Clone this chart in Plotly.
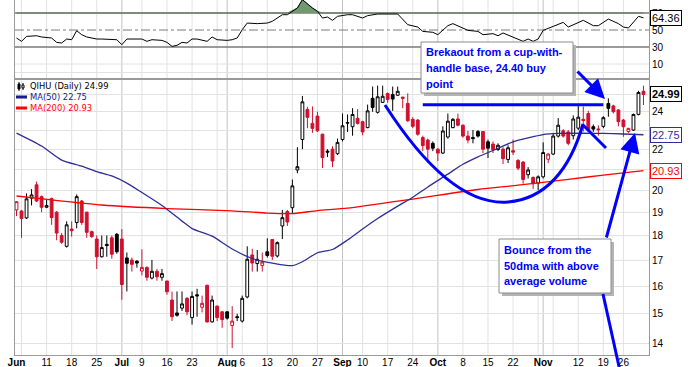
import numpy as np
import pandas as pd
import plotly.graph_objects as go

# ---------------- data ----------------
HOLIDAYS = ["2012-07-04", "2012-09-03", "2012-10-29", "2012-10-30", "2012-11-22"]
DATES = [d.strftime("%Y-%m-%d") for d in pd.bdate_range("2012-06-01", "2012-11-30")
         if d.strftime("%Y-%m-%d") not in HOLIDAYS]

OPEN = [19.10, 19.05, 18.75, 19.63, 20.25, 19.70, 19.22, 19.62, 19.00, 18.00,
        17.55, 18.27, 18.55, 19.50, 19.00, 18.16, 17.85, 17.13, 17.63, 17.90,
        18.05, 17.85, 17.08, 17.00, 16.95, 16.57, 16.71, 16.30, 16.56, 16.33,
        16.19, 15.49, 15.03, 15.20, 15.55, 14.87, 15.68, 15.23, 16.03, 14.72,
        15.27, 15.07, 15.07, 14.60, 14.90, 14.75, 15.60, 17.20, 16.86, 16.78,
        17.33, 17.83, 17.16, 18.40, 19.03, 19.20, 20.96, 22.50, 24.13, 23.36,
        23.76, 22.78, 21.90, 22.00, 21.77, 22.50, 23.40, 23.18, 23.64, 23.45,
        23.13, 24.76, 23.97, 24.53, 25.04, 24.98, 24.94, 24.83, 24.47, 23.58,
        23.54, 22.60, 22.47, 22.30, 22.00, 21.80, 22.63, 23.13, 23.60, 23.26,
        22.68, 22.60, 22.92, 22.92, 22.38, 22.26, 21.98, 22.00, 21.48, 21.92,
        21.43, 21.35, 20.73, 20.60, 20.33, 20.63, 21.49, 21.75, 22.68, 22.96,
        22.90, 22.70, 23.10, 23.58, 23.90, 23.18, 23.06, 23.20, 24.47, 24.33,
        24.10, 23.54, 22.92, 23.00, 23.85, 25.17]
HIGH = [19.50, 19.10, 19.85, 20.05, 20.40, 19.75, 19.55, 19.65, 19.05, 18.10,
        18.60, 18.60, 19.80, 19.55, 19.02, 18.20, 18.00, 18.00, 18.00, 18.00,
        18.10, 18.27, 17.30, 17.10, 17.00, 17.43, 16.75, 17.00, 16.65, 16.65,
        16.20, 15.80, 15.80, 15.80, 15.60, 15.80, 15.90, 15.65, 16.05, 15.65,
        15.30, 15.10, 15.10, 15.27, 15.00, 15.65, 17.55, 17.45, 17.40, 17.30,
        17.88, 17.85, 17.75, 19.10, 19.10, 20.50, 22.10, 24.90, 24.28, 24.30,
        24.00, 22.80, 22.00, 22.15, 22.55, 23.90, 23.85, 24.20, 24.15, 23.50,
        24.40, 25.45, 25.50, 25.50, 25.10, 25.45, 25.45, 24.85, 25.05, 23.70,
        23.60, 22.70, 22.55, 22.40, 22.05, 23.20, 23.90, 23.65, 23.90, 23.30,
        22.95, 23.00, 23.00, 22.95, 22.50, 22.40, 22.30, 22.10, 22.20, 22.50,
        21.50, 21.40, 21.10, 20.65, 20.70, 22.35, 21.80, 22.85, 23.65, 23.05,
        23.00, 23.80, 24.33, 24.30, 24.05, 23.30, 23.25, 23.75, 24.76, 24.40,
        24.15, 23.60, 23.12, 23.90, 25.20, 25.50]
LOW = [18.83, 17.90, 18.70, 19.30, 19.45, 19.00, 19.18, 18.45, 17.80, 17.65,
       17.50, 17.95, 18.30, 18.45, 17.90, 17.90, 16.65, 17.10, 17.13, 17.05,
       17.25, 15.50, 15.80, 16.55, 16.70, 16.40, 16.20, 16.25, 16.20, 16.20,
       15.68, 14.75, 14.90, 15.10, 14.95, 14.63, 14.90, 15.05, 14.70, 14.70,
       14.75, 14.52, 14.80, 13.85, 14.75, 14.70, 15.55, 16.55, 16.55, 16.55,
       17.10, 17.00, 17.10, 17.85, 18.40, 18.95, 20.80, 22.00, 23.10, 22.85,
       22.90, 21.06, 21.60, 21.10, 21.70, 22.40, 22.90, 22.70, 23.30, 22.72,
       23.10, 24.00, 23.90, 24.50, 24.50, 24.05, 24.90, 24.20, 23.45, 23.10,
       22.70, 21.90, 21.30, 21.90, 21.40, 21.75, 22.55, 23.10, 23.20, 22.60,
       22.30, 22.30, 22.60, 21.80, 21.55, 21.80, 21.90, 21.25, 21.30, 21.70,
       20.95, 20.30, 20.55, 20.05, 20.00, 20.55, 21.30, 21.70, 22.60, 22.60,
       22.20, 22.50, 23.00, 22.92, 22.90, 22.90, 22.70, 23.10, 23.72, 23.90,
       23.20, 22.64, 22.85, 22.95, 23.80, 24.38]
CLOSE = [19.47, 18.72, 19.60, 19.78, 19.50, 19.22, 19.30, 18.76, 18.10, 17.72,
         18.45, 18.20, 19.70, 18.55, 18.13, 17.95, 17.13, 17.50, 17.58, 17.23,
         17.33, 16.06, 16.87, 16.83, 16.88, 16.71, 16.33, 16.56, 16.35, 16.47,
         15.79, 14.90, 14.95, 15.35, 15.07, 15.62, 15.64, 15.37, 14.72, 15.49,
         14.87, 14.80, 14.85, 14.75, 14.87, 15.55, 17.03, 16.88, 17.03, 16.92,
         17.18, 17.15, 17.70, 18.76, 18.57, 20.20, 21.12, 24.56, 23.69, 23.09,
         22.96, 21.57, 21.85, 21.40, 22.35, 23.23, 23.38, 23.85, 23.36, 22.90,
         24.05, 24.24, 24.85, 24.88, 24.70, 24.72, 25.17, 24.76, 23.50, 23.20,
         22.78, 22.18, 22.00, 22.05, 21.80, 22.95, 23.48, 23.58, 23.26, 22.68,
         22.47, 22.55, 22.68, 22.00, 22.05, 21.98, 22.20, 21.52, 22.07, 21.85,
         21.05, 20.50, 20.96, 20.30, 20.63, 21.83, 21.75, 22.68, 23.26, 22.68,
         22.30, 23.60, 23.70, 23.52, 23.00, 23.05, 23.02, 23.67, 24.19, 24.00,
         23.45, 23.18, 23.09, 23.85, 25.10, 24.99]
PRIOR_CLOSE = 19.60

MA50_DAY = [0, 5, 9, 13, 16, 19, 22, 25, 29, 33, 35, 39, 43, 47, 51, 55, 57, 60,
            63, 66, 69, 72, 76, 79, 82, 86, 89, 92, 96, 99, 105, 108, 113, 117, 121, 125]
MA50_VAL = [22.84, 22.16, 21.45, 21.15, 20.88, 20.67, 20.33, 19.89, 19.30, 18.61,
            18.29, 17.97, 17.44, 17.06, 16.88, 16.78, 16.93, 17.29, 17.42, 17.81,
            18.27, 18.72, 19.27, 19.67, 20.15, 20.76, 21.24, 21.61, 22.04, 22.38,
            22.76, 22.82, 22.83, 22.82, 22.79, 22.75]
MA200_DAY = [0, 7, 17, 30, 43, 50, 55, 60, 66, 79, 92, 100, 110, 117, 125]
MA200_VAL = [19.73, 19.55, 19.32, 19.16, 19.06, 18.96, 18.94, 19.07, 19.18, 19.59,
             20.03, 20.23, 20.51, 20.71, 20.93]

RSI_DAY = [0, 1, 2, 4, 5, 7, 8, 9, 10, 11, 12, 13, 14, 16, 17, 20, 21, 22, 25, 26,
           27, 29, 30, 31, 32, 33, 34, 35, 36, 38, 39, 40, 42, 43, 44, 45, 46, 48,
           50, 51, 53, 54, 56, 57, 59, 60, 61, 62, 63, 64, 66, 67, 69, 70, 72, 74,
           75, 76, 78, 80, 81, 83, 84, 86, 87, 88, 90, 92, 93, 95, 96, 97, 99, 101,
           102, 103, 104, 105, 107, 109, 110, 111, 113, 115, 116, 118, 120, 121,
           122, 124, 125]
RSI_VAL = [40.6, 36.7, 42.5, 43.3, 41.8, 40.6, 35.5, 34.7, 39.4, 38.6, 49.2, 44.5,
           41.8, 39.4, 39.4, 38.6, 32.7, 39.4, 39.4, 36.7, 38.6, 37.8, 35.5, 30.8,
           32.0, 35.5, 34.7, 39.4, 39.4, 36.7, 41.8, 38.6, 37.8, 38.6, 40.6, 50.4,
           58.2, 57.5, 58.2, 60.2, 68.0, 68.0, 75.9, 85.7, 75.9, 72.0, 64.1, 65.3,
           61.4, 66.1, 68.0, 68.0, 64.1, 66.9, 68.8, 68.8, 68.0, 68.8, 56.3, 53.5,
           48.4, 47.3, 44.5, 55.1, 57.5, 55.1, 49.6, 48.4, 44.5, 45.7, 43.3, 46.5,
           41.8, 36.7, 39.4, 36.7, 39.4, 49.6, 54.3, 59.0, 53.5, 56.3, 61.4, 55.1,
           55.1, 62.9, 57.5, 53.5, 52.4, 66.1, 64.36]
RSI_LEVELS = [30, 50, 70]
RSI_LIGHT = [0, 10]

BUY_POINT = 24.40
BUY_LINE_DATES = ["2012-09-26", "2012-11-19"]

PRICE_TICKS = [14, 15, 16, 17, 18, 19, 20, 21, 22, 23, 24, 25]
PRICE_TICK_TEXT = ["14", "15", "16", "17", "18", "19", "20", "", "22", "", "24", ""]
RSI_TICKS = [10, 30, 50, 70]

WEEK_STARTS = ["2012-06-04", "2012-06-11", "2012-06-18", "2012-06-25",
               "2012-07-09", "2012-07-16", "2012-07-23", "2012-07-30", "2012-08-06",
               "2012-08-13", "2012-08-20", "2012-08-27", "2012-09-10",
               "2012-09-17", "2012-09-24", "2012-10-08", "2012-10-15",
               "2012-10-22", "2012-10-31", "2012-11-05", "2012-11-12", "2012-11-19",
               "2012-11-26"]
MONTH_LINES = ["2012-07-02", "2012-08-01", "2012-09-04", "2012-10-01", "2012-11-01"]
TICK_DATES = ["2012-06-01", "2012-06-11", "2012-06-18", "2012-06-25", "2012-07-02",
              "2012-07-09", "2012-07-16", "2012-07-23", "2012-08-01", "2012-08-06",
              "2012-08-13", "2012-08-20", "2012-08-27", "2012-09-04", "2012-09-10",
              "2012-09-17", "2012-09-24", "2012-10-01", "2012-10-08", "2012-10-15",
              "2012-10-22", "2012-11-01", "2012-11-12", "2012-11-19", "2012-11-26"]
TICK_TEXT = ["<b>Jun</b>", "11", "18", "25", "<b>Jul</b>", "9", "16", "23", "<b>Aug</b>",
             "6", "13", "20", "27", "<b>Sep</b>", "10", "17", "24", "<b>Oct</b>", "8",
             "15", "22", "<b>Nov</b>", "12", "19", "26"]

SYMBOL = "QIHU (Daily)"
NOTE1 = ["Brekaout from a cup-with-", "handle base, 24.40 buy", "point"]
NOTE2 = ["Bounce from the", "50dma with above", "average volume"]

# ---------------- geometry helpers ----------------
W, H = 698, 367
ML, MR, MT, MB = 15, 49, 0, 12
PW, PH = W - ML - MR, H - MT - MB
SPLIT = (PH - 79) / PH


def px(x):
    return (x - ML) / PW


def py(y):
    return (H - MB - y) / PH


di = {d: i for i, d in enumerate(DATES)}
N = len(DATES)
prev = [PRIOR_CLOSE] + CLOSE[:-1]
black_idx = [i for i in range(N) if CLOSE[i] >= prev[i]]
red_idx = [i for i in range(N) if CLOSE[i] < prev[i]]

RED = "#d0102e"
BLUE = "#0000ff"
NAVY = "#2e2e96"
FONT = "Liberation Sans"


def candle(idx, color):
    return go.Candlestick(
        x=idx, open=[OPEN[i] for i in idx], high=[HIGH[i] for i in idx],
        low=[LOW[i] for i in idx], close=[CLOSE[i] for i in idx],
        increasing=dict(line=dict(color=color, width=1), fillcolor="white"),
        decreasing=dict(line=dict(color=color, width=1), fillcolor=color),
        whiskerwidth=0, xaxis="x", yaxis="y", showlegend=False, hoverinfo="skip")


fig = go.Figure()
fig.add_trace(go.Scatter(x=MA200_DAY, y=MA200_VAL, mode="lines",
                         line=dict(color="#ff0000", width=1.3, shape="spline", smoothing=0.6),
                         xaxis="x", yaxis="y", hoverinfo="skip"))
fig.add_trace(go.Scatter(x=MA50_DAY, y=MA50_VAL, mode="lines",
                         line=dict(color=NAVY, width=1.3, shape="spline", smoothing=0.6),
                         xaxis="x", yaxis="y", hoverinfo="skip"))
fig.add_trace(candle(black_idx, "#000000"))
fig.add_trace(candle(red_idx, RED))
fig.add_trace(go.Scatter(x=[di[d] for d in BUY_LINE_DATES], y=[BUY_POINT, BUY_POINT], mode="lines",
                         line=dict(color=BLUE, width=3), xaxis="x", yaxis="y", hoverinfo="skip"))

# RSI panel
fig.add_trace(go.Scatter(x=RSI_DAY, y=[70] * len(RSI_DAY), mode="lines", line=dict(width=0),
                         xaxis="x2", yaxis="y2", hoverinfo="skip"))
fig.add_trace(go.Scatter(x=RSI_DAY, y=np.maximum(RSI_VAL, 70), mode="lines",
                         line=dict(width=0.8, color="#4f7a4f"),
                         fill="tonexty", fillcolor="#6f9a6f", xaxis="x2", yaxis="y2", hoverinfo="skip"))
fig.add_trace(go.Scatter(x=RSI_DAY, y=RSI_VAL, mode="lines", line=dict(color="#000000", width=1),
                         xaxis="x2", yaxis="y2", hoverinfo="skip"))

tick_days = [di[d] for d in TICK_DATES]

GRID = "#e2e2e2"
BORDER = "#9a9a9a"
axis_common = dict(showline=True, linecolor=BORDER, ticks="", zeroline=False, automargin=False)

fig.update_layout(
    width=W, height=H, margin=dict(l=ML, r=MR, t=MT, b=MB, pad=0, autoexpand=False),
    paper_bgcolor="white", plot_bgcolor="white", showlegend=False, boxgap=0.2,
    font=dict(family=FONT, size=10, color="#000000"),
    xaxis=dict(domain=[0, 1], anchor="y", range=[-0.3, 126.1], tickmode="array",
               tickvals=tick_days, ticktext=TICK_TEXT, showgrid=False, mirror=True,
               ticklabelstandoff=-2,
               rangeslider=dict(visible=False), tickfont=dict(family=FONT, size=10, color="#000"),
               **axis_common),
    yaxis=dict(domain=[0, SPLIT], anchor="x", type="log", mirror=True,
               range=[np.log10(13.63), np.log10(25.9)], side="right", tickmode="array",
               tickvals=PRICE_TICKS, ticktext=PRICE_TICK_TEXT,
               showgrid=True, gridcolor=GRID, tickfont=dict(family=FONT, size=10, color="#000"),
               **axis_common),
    xaxis2=dict(domain=[0, 1], anchor="y2", matches="x", showticklabels=False, showgrid=False,
                mirror=False, **axis_common),
    yaxis2=dict(domain=[SPLIT, 1], anchor="x2", range=[-7.6, 85.3], side="right", mirror=True,
                tickmode="array", tickvals=RSI_TICKS, ticktext=[str(t) for t in RSI_TICKS],
                showgrid=False, tickfont=dict(family=FONT, size=10, color="#000"),
                **axis_common),
)

shapes = []
for d in WEEK_STARTS + MONTH_LINES:
    col = "#c2c2c2" if d in MONTH_LINES else GRID
    for xr, yr in (("x", "y domain"), ("x2", "y2 domain")):
        shapes.append(dict(type="line", xref=xr, yref=yr, x0=di[d], x1=di[d], y0=0, y1=1,
                           line=dict(color=col, width=1), layer="below"))
for lv in RSI_LIGHT:
    shapes.append(dict(type="line", xref="x2 domain", yref="y2", x0=0, x1=1, y0=lv, y1=lv,
                       line=dict(color=GRID, width=1), layer="below"))
for lv in RSI_LEVELS:
    shapes.append(dict(type="line", xref="x2 domain", yref="y2", x0=0, x1=1, y0=lv, y1=lv,
                       line=dict(color="#7a7a7a", width=1.5 if lv != 50 else 1,
                                 dash="solid" if lv != 50 else "dashdot"), layer="below"))


def rect(x0, y0, x1, y1, **kw):
    return dict(type="rect", xref="paper", yref="paper", x0=px(x0), x1=px(x1), y0=py(y1), y1=py(y0), **kw)


def line(x0, y0, x1, y1, color=BLUE, width=3):
    return dict(type="line", xref="paper", yref="paper", x0=px(x0), y0=py(y0), x1=px(x1), y1=py(y1),
                line=dict(color=color, width=width), layer="above")


# note boxes with shadow
for (x0, y0, x1, y1) in ((421, 42, 573, 93), (499, 239, 611, 293)):
    shapes.append(rect(x0 + 3, y0 + 3, x1 + 3, y1 + 3, fillcolor="#b4b4b4", line=dict(width=0), layer="above"))
    shapes.append(rect(x0, y0, x1, y1, fillcolor="white", line=dict(color="#8c8c8c", width=1), layer="above"))

# cup curve and handle
pts = [(385, 105), (430, 175), (470, 205), (508, 202), (545, 199), (570, 170), (583, 124)]
pp = [(px(a), py(b)) for a, b in pts]
path = "M {},{} C {},{} {},{} {},{} C {},{} {},{} {},{}".format(*[v for p in pp for v in p])
shapes.append(dict(type="path", xref="paper", yref="paper", path=path,
                   line=dict(color=BLUE, width=3), layer="above"))
shapes.append(line(583, 125, 606, 148))
shapes.append(line(603, 294, 622, 380))
# legend markers
shapes.append(line(16, 97, 27, 97, color="#1a1a8c", width=3))
shapes.append(line(16, 108, 27, 108, color="#ff0000", width=3))
shapes.append(line(19, 82, 19, 91, color="#000", width=1))
shapes.append(rect(18, 84, 20, 89, fillcolor="#000", line=dict(color="#000", width=1), layer="above"))
shapes.append(line(23, 83, 23, 90, color="#000", width=1))
shapes.append(rect(22, 85, 24, 88, fillcolor="#fff", line=dict(color="#000", width=1), layer="above"))
fig.update_layout(shapes=shapes)

ann = []
for k, t in enumerate(NOTE1):
    ann.append(dict(x=px(424), y=py(52 + 16 * k), xref="paper", yref="paper", text=t, showarrow=False,
                    xanchor="left", yanchor="middle", font=dict(family=FONT, size=11, color=BLUE, weight="bold")))
for k, t in enumerate(NOTE2):
    ann.append(dict(x=px(502), y=py(250 + 15.5 * k), xref="paper", yref="paper", text=t, showarrow=False,
                    xanchor="left", yanchor="middle", font=dict(family=FONT, size=11, color=BLUE, weight="bold")))
# arrows
ann.append(dict(x=px(605), y=py(99), xref="paper", yref="paper", text="", showarrow=True,
                ax=-29, ay=-29, arrowhead=2, arrowsize=1.3, arrowwidth=3, arrowcolor=BLUE))
ann.append(dict(x=px(635), y=py(133), xref="paper", yref="paper", text="", showarrow=True,
                ax=-29, ay=106, arrowhead=2, arrowsize=1.3, arrowwidth=3, arrowcolor=BLUE))
# legend text
leg_font = "DejaVu Sans"
LS = 8.4
ann.append(dict(x=px(28), y=py(86), xref="paper", yref="paper", showarrow=False, xanchor="left",
                yanchor="middle", text=f"{SYMBOL} {CLOSE[-1]:.2f}", font=dict(family=leg_font, size=LS, color="#000")))
ann.append(dict(x=px(28), y=py(97), xref="paper", yref="paper", showarrow=False, xanchor="left",
                yanchor="middle", text=f"MA(50) {MA50_VAL[-1]:.2f}", font=dict(family=leg_font, size=LS, color="#1a1a8c")))
ann.append(dict(x=px(28), y=py(108), xref="paper", yref="paper", showarrow=False, xanchor="left",
                yanchor="middle", text=f"MA(200) {MA200_VAL[-1]:.2f}", font=dict(family=leg_font, size=LS, color="#ff0000")))
# value tags on right axis
tag = dict(xref="paper", showarrow=False, xanchor="left", yanchor="middle", bgcolor="white",
           borderwidth=1, borderpad=1, x=px(650))
ann.append(dict(tag, yref="y", y=np.log10(CLOSE[-1]), text=f"<b>{CLOSE[-1]:.2f}</b>", bordercolor="#000",
                font=dict(family=FONT, size=11, color="#000")))
ann.append(dict(tag, yref="y", y=np.log10(MA50_VAL[-1]), text=f"{MA50_VAL[-1]:.2f}", bordercolor=NAVY,
                font=dict(family=FONT, size=11, color=NAVY)))
ann.append(dict(tag, yref="y", y=np.log10(MA200_VAL[-1]), text=f"{MA200_VAL[-1]:.2f}", bordercolor="#ff0000",
                font=dict(family=FONT, size=11, color="#ff0000")))
ann.append(dict(tag, yref="y2", y=RSI_VAL[-1], text=f"{RSI_VAL[-1]:.2f}", bordercolor="#000",
                font=dict(family=FONT, size=11, color="#000")))
fig.update_layout(annotations=ann)

fig.write_html("out.html", config={"displayModeBar": False},
               post_script="document.body.style.margin='0';document.body.style.overflow='hidden';")
